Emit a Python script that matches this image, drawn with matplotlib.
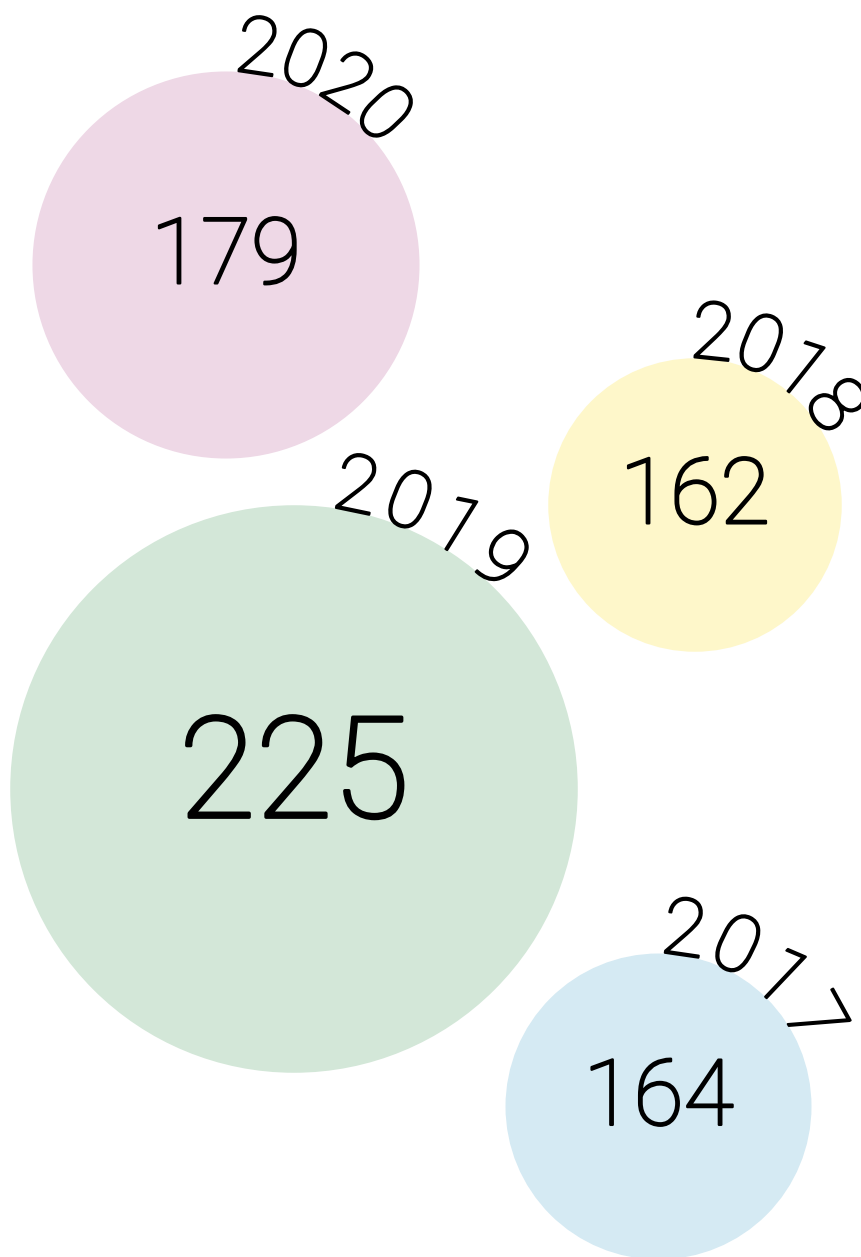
import numpy as np
import matplotlib.pyplot as plt
import matplotlib.patheffects as pe
from matplotlib.patches import Circle

plt.rcParams['font.family'] = ['Roboto', 'DejaVu Sans']

# data
years = ['2020', '2018', '2019', '2017']
counts = [179, 162, 225, 164]
colors = ['#eed8e6', '#fef7ca', '#d3e7d8', '#d5eaf3']

# bubble layout in pixels (y grows downward)
cx = [226, 695, 294, 658.5]
cy = [265, 505, 789, 1106.5]
# year labels run clockwise along the top of each bubble
label_start = [8.4, 6.0, 11.7, 8.3]     # deg from top of first digit
label_step = [42.6, 41.5, 50.0, 47.0]   # arc px between digits


def radius(v):
    # sqrt scale with an offset domain
    return 30.6 * np.sqrt(v - 139.0)


def thicken(fs):
    # light weight + thin stroke, sits between Roboto Light and Regular
    return [pe.withStroke(linewidth=0.026 * fs, foreground='black')]


fig = plt.figure(figsize=(8.61, 12.57), dpi=100)
ax = fig.add_axes([0, 0, 1, 1])
ax.set_xlim(0, 861)
ax.set_ylim(1257, 0)
ax.axis('off')

year_fs = 57.6
for i in range(len(years)):
    r = radius(counts[i])
    ax.add_patch(Circle((cx[i], cy[i]), r, facecolor=colors[i], edgecolor='none'))

    fs = 101 if counts[i] == max(counts) else 66
    em = fs / 0.72
    ax.text(cx[i], cy[i] + 0.2 * em, str(counts[i]), ha='center', va='baseline',
            fontsize=fs, color='black', fontweight='light',
            path_effects=thicken(fs))

    for k, ch in enumerate(years[i]):
        th = np.radians(label_start[i]) + k * label_step[i] / r
        x = cx[i] + r * np.sin(th)
        y = cy[i] - r * np.cos(th)
        ax.text(x, y, ch, fontsize=year_fs, rotation=-np.degrees(th),
                rotation_mode='anchor', ha='center', va='baseline', color='black',
                fontweight='light', path_effects=thicken(year_fs))

fig.savefig('out.png', dpi=100)
